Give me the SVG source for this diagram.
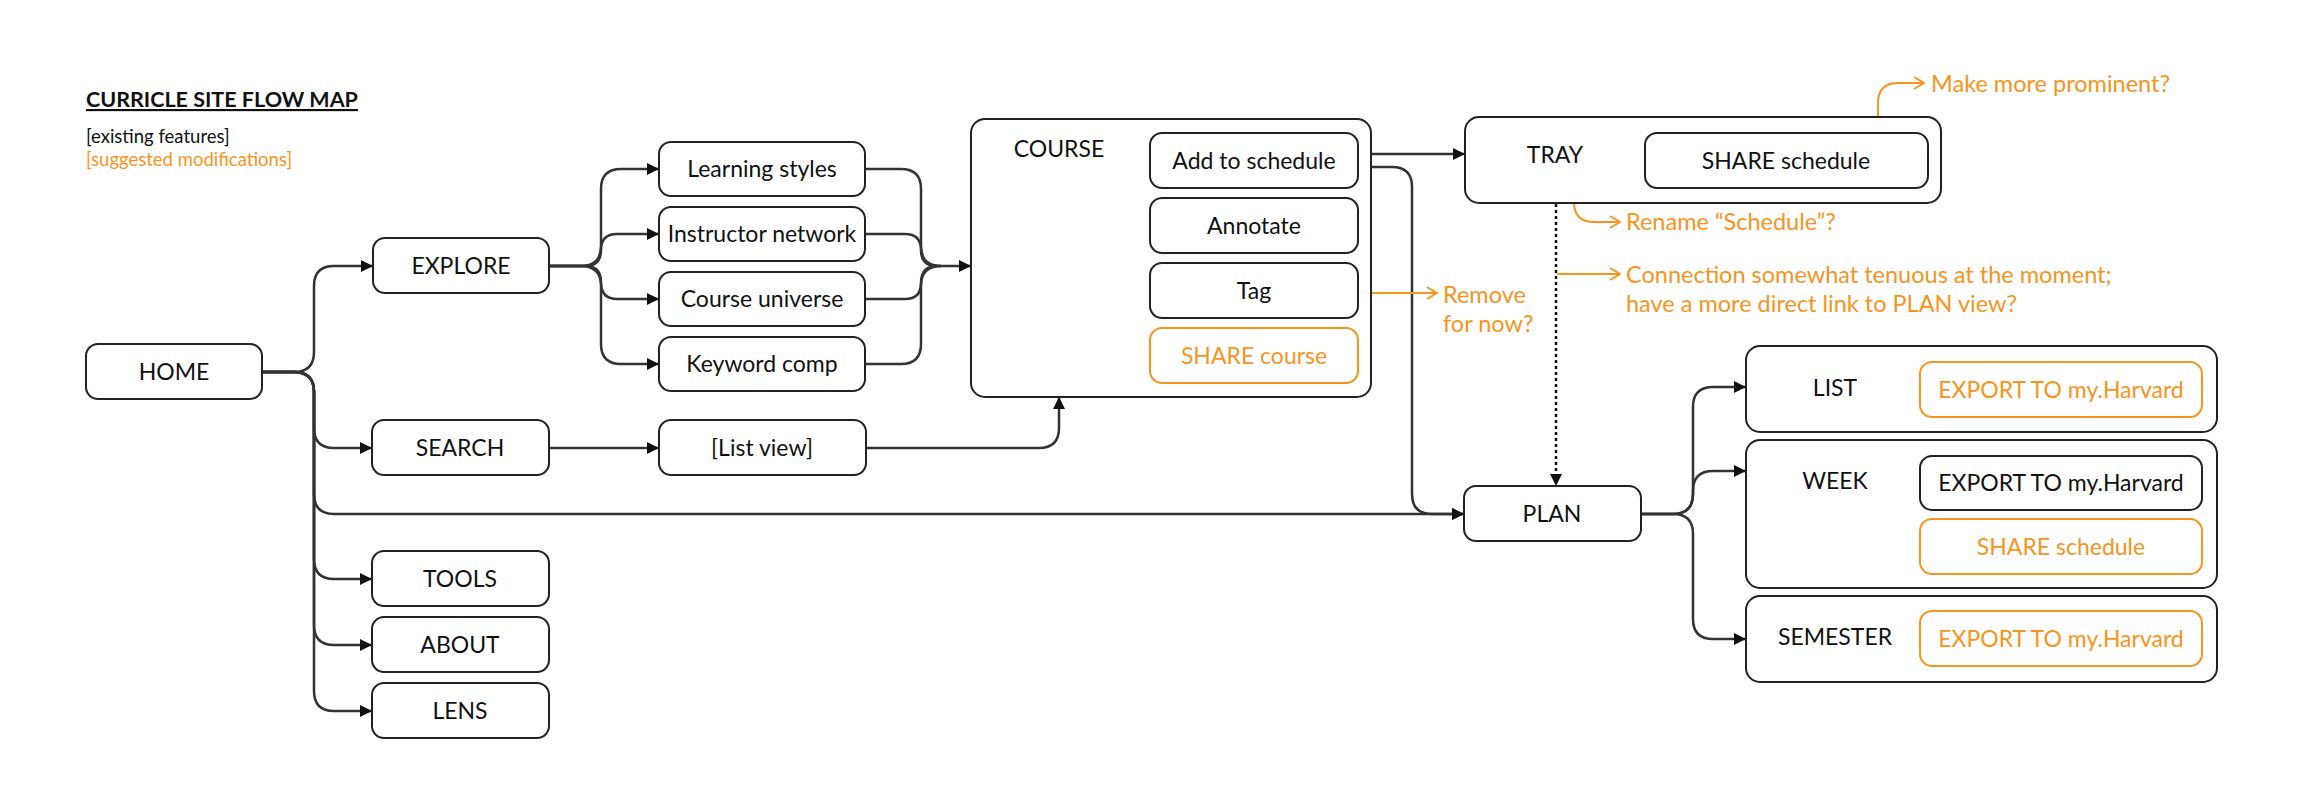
<svg xmlns="http://www.w3.org/2000/svg" width="2319" height="791" viewBox="0 0 2319 791">
<style>
text{font-family:Lato,"Liberation Sans",sans-serif;}
.lbl{font-size:23px;fill:#111;text-anchor:middle;}
.olbl{font-size:23px;fill:#F7941D;text-anchor:middle;}
.note{font-size:23.5px;fill:#F7941D;}
.box{fill:#fff;stroke:#222;stroke-width:2;}
.obox{fill:#fff;stroke:#F7941D;stroke-width:2;}
.ln{fill:none;stroke:#333;stroke-width:2.5;}
.arr{marker-end:url(#ah);}
.oln{fill:none;stroke:#F7941D;stroke-width:2;marker-end:url(#oh);}
.dot{fill:none;stroke:#111;stroke-width:2.5;stroke-dasharray:3 3;marker-end:url(#ah);}
</style>
<defs>
<marker id="ah" viewBox="0 0 12 12" refX="12" refY="6" markerWidth="12" markerHeight="12" markerUnits="userSpaceOnUse" orient="auto">
<path d="M0,0 L12,6 L0,12 Z" fill="#111"/>
</marker>
<marker id="oh" viewBox="0 0 12 14" refX="11" refY="7" markerWidth="12" markerHeight="14" markerUnits="userSpaceOnUse" orient="auto">
<path d="M1,1 L11,7 L1,13" fill="none" stroke="#F7941D" stroke-width="2"/>
</marker>
</defs>
<rect width="2319" height="791" fill="#fff"/>

<g id="legend">
<text x="86" y="107" style="font-size:21.5px;font-weight:bold;fill:#111;text-decoration:underline">CURRICLE SITE FLOW MAP</text>
<text x="86" y="143" style="font-size:18.5px;fill:#111">[existing features]</text>
<text x="86" y="166" style="font-size:18.5px;fill:#F7941D">[suggested modifications]</text>
</g>

<g id="connectors">
<path class="ln arr" d="M262,372 H294 Q314,372 314,352 V286 Q314,266 334,266 H373"/>
<path class="ln arr" d="M262,372 H294 Q314,372 314,392 V428 Q314,448 334,448 H372"/>
<path class="ln arr" d="M262,372 H294 Q314,372 314,392 V494 Q314,514 334,514 H1464"/>
<path class="ln arr" d="M262,372 H294 Q314,372 314,392 V559 Q314,579 334,579 H372"/>
<path class="ln arr" d="M262,372 H294 Q314,372 314,392 V625 Q314,645 334,645 H372"/>
<path class="ln arr" d="M262,372 H294 Q314,372 314,392 V691 Q314,711 334,711 H372"/>

<path class="ln arr" d="M549,266 H581 Q601,266 601,246 V189 Q601,169 621,169 H659"/>
<path class="ln arr" d="M549,266 H585 Q601,266 601,250 Q601,234 617,234 H659"/>
<path class="ln arr" d="M549,266 H585 Q601,266 601,282 Q601,299 617,299 H659"/>
<path class="ln arr" d="M549,266 H581 Q601,266 601,286 V344 Q601,364 621,364 H659"/>

<path class="ln" d="M865,169 H901 Q921,169 921,189 V246 Q921,266 941,266"/>
<path class="ln" d="M865,234 H905 Q921,234 921,250 Q921,266 937,266"/>
<path class="ln" d="M865,299 H905 Q921,299 921,283 Q921,266 937,266"/>
<path class="ln" d="M865,364 H901 Q921,364 921,344 V286 Q921,266 941,266"/>
<path class="ln arr" d="M935,266 H971"/>

<path class="ln arr" d="M549,448 H659"/>
<path class="ln arr" d="M866,448 H1039 Q1059,448 1059,428 V397"/>

<path class="ln arr" d="M1358,154 H1465"/>
<path class="ln arr" d="M1358,167 H1392 Q1412,167 1412,187 V494 Q1412,514 1432,514 H1464"/>

<path class="dot" d="M1556,204 V486"/>

<path class="ln arr" d="M1641,514 H1673 Q1693,514 1693,494 V407 Q1693,387 1713,387 H1746"/>
<path class="ln arr" d="M1641,514 H1673 Q1693,514 1693,494 V491 Q1693,471 1713,471 H1746"/>
<path class="ln arr" d="M1641,514 H1673 Q1693,514 1693,534 V619 Q1693,639 1713,639 H1746"/>

<path class="oln" d="M1358,293 H1437"/>
<path class="oln" d="M1574,172 V202 Q1574,222 1594,222 H1620"/>
<path class="oln" d="M1878,133 V103 Q1878,83 1898,83 H1924"/>
<path class="oln" d="M1557,274 H1620"/>
</g>

<g id="home"><rect class="box" x="86" y="344" width="176" height="55" rx="12"/><text class="lbl" x="174" y="380">HOME</text></g>
<g id="explore"><rect class="box" x="373" y="238" width="176" height="55" rx="12"/><text class="lbl" x="461" y="274">EXPLORE</text></g>
<g id="learning-styles"><rect class="box" x="659" y="142" width="206" height="54" rx="12"/><text class="lbl" x="762" y="177">Learning styles</text></g>
<g id="instructor-network"><rect class="box" x="659" y="207" width="206" height="54" rx="12"/><text class="lbl" x="762" y="242">Instructor network</text></g>
<g id="course-universe"><rect class="box" x="659" y="272" width="206" height="54" rx="12"/><text class="lbl" x="762" y="307">Course universe</text></g>
<g id="keyword-comp"><rect class="box" x="659" y="337" width="206" height="54" rx="12"/><text class="lbl" x="762" y="372">Keyword comp</text></g>
<g id="search"><rect class="box" x="372" y="420" width="177" height="55" rx="12"/><text class="lbl" x="460" y="456">SEARCH</text></g>
<g id="list-view"><rect class="box" x="659" y="420" width="207" height="55" rx="12"/><text class="lbl" x="762" y="456">[List view]</text></g>
<g id="tools"><rect class="box" x="372" y="551" width="177" height="55" rx="12"/><text class="lbl" x="460" y="587">TOOLS</text></g>
<g id="about"><rect class="box" x="372" y="617" width="177" height="55" rx="12"/><text class="lbl" x="460" y="653">ABOUT</text></g>
<g id="lens"><rect class="box" x="372" y="683" width="177" height="55" rx="12"/><text class="lbl" x="460" y="719">LENS</text></g>

<g id="course">
<rect class="box" x="971" y="119" width="400" height="278" rx="14"/>
<text class="lbl" x="1059" y="157">COURSE</text>
<rect class="box" x="1150" y="133" width="208" height="55" rx="12"/><text class="lbl" x="1254" y="169">Add to schedule</text>
<rect class="box" x="1150" y="198" width="208" height="55" rx="12"/><text class="lbl" x="1254" y="234">Annotate</text>
<rect class="box" x="1150" y="263" width="208" height="55" rx="12"/><text class="lbl" x="1254" y="299">Tag</text>
<rect class="obox" x="1150" y="328" width="208" height="55" rx="12"/><text class="olbl" x="1254" y="364">SHARE course</text>
</g>

<g id="tray">
<rect class="box" x="1465" y="117" width="476" height="86" rx="14"/>
<text class="lbl" x="1555" y="163">TRAY</text>
<rect class="box" x="1645" y="133" width="283" height="55" rx="12"/><text class="lbl" x="1786" y="169">SHARE schedule</text>
</g>

<g id="plan"><rect class="box" x="1464" y="486" width="177" height="55" rx="12"/><text class="lbl" x="1552" y="522">PLAN</text></g>

<g id="list">
<rect class="box" x="1746" y="346" width="471" height="86" rx="14"/>
<text class="lbl" x="1835" y="396">LIST</text>
<rect class="obox" x="1920" y="362" width="282" height="55" rx="12"/><text class="olbl" x="2061" y="398">EXPORT TO my.Harvard</text>
</g>

<g id="week">
<rect class="box" x="1746" y="440" width="471" height="148" rx="14"/>
<text class="lbl" x="1835" y="489">WEEK</text>
<rect class="box" x="1920" y="456" width="282" height="54" rx="12"/><text class="lbl" x="2061" y="491">EXPORT TO my.Harvard</text>
<rect class="obox" x="1920" y="519" width="282" height="55" rx="12"/><text class="olbl" x="2061" y="555">SHARE schedule</text>
</g>

<g id="semester">
<rect class="box" x="1746" y="596" width="471" height="86" rx="14"/>
<text class="lbl" x="1835" y="645">SEMESTER</text>
<rect class="obox" x="1920" y="611" width="282" height="55" rx="12"/><text class="olbl" x="2061" y="647">EXPORT TO my.Harvard</text>
</g>

<g id="notes">
<text class="note" x="1443" y="303">Remove</text>
<text class="note" x="1443" y="332">for now?</text>
<text class="note" x="1931" y="92">Make more prominent?</text>
<text class="note" x="1626" y="230">Rename “Schedule”?</text>
<text class="note" x="1626" y="283">Connection somewhat tenuous at the moment;</text>
<text class="note" x="1626" y="312">have a more direct link to PLAN view?</text>
</g>
</svg>
